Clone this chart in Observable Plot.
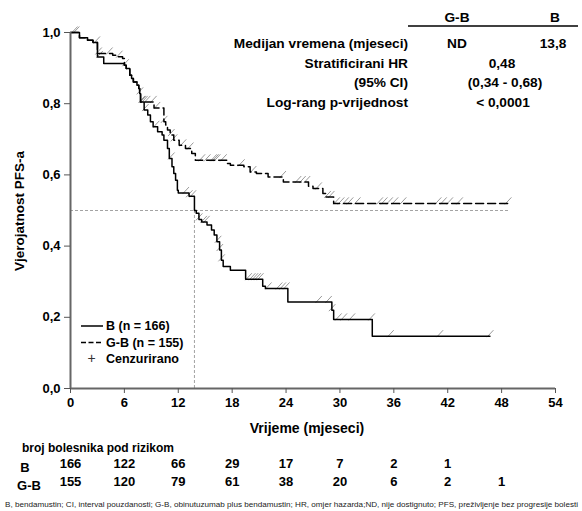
<!DOCTYPE html>
<html><head><meta charset="utf-8">
<script src="https://cdn.jsdelivr.net/npm/d3@7"></script>
<script src="https://cdn.jsdelivr.net/npm/@observablehq/plot@0.6"></script>
<style>
body{margin:0;background:#fff;font-family:"Liberation Sans",Arial,sans-serif}
#chart svg{display:block}
</style>
</head><body><div id="chart"></div>
<script>
// ---- data ----
const timeB = [0,1.0,1.9,2.5,3.0,3.7,6.0,6.2,6.6,6.8,7.0,7.4,7.6,7.7,7.8,8.2,8.6,8.9,9.2,9.7,10.2,10.4,10.8,11.0,11.3,11.5,11.7,11.9,12.0,13.2,13.8,14.0,14.3,14.6,15.2,15.7,16.0,16.3,16.6,16.8,17.0,17.8,19.5,21.4,21.7,24.2,29.1,29.3,33.6,46.7];
const survB = [1.0,0.985,0.978,0.972,0.931,0.913,0.908,0.899,0.880,0.871,0.861,0.852,0.843,0.829,0.805,0.782,0.768,0.749,0.735,0.721,0.712,0.697,0.674,0.646,0.623,0.604,0.585,0.557,0.549,0.540,0.500,0.492,0.475,0.468,0.459,0.445,0.431,0.412,0.389,0.360,0.343,0.332,0.307,0.287,0.281,0.243,0.220,0.194,0.147,0.147];
const timeGB = [0,1.0,1.9,2.5,3.0,4.7,5.2,5.8,6.0,6.2,6.6,6.8,7.0,7.4,7.6,7.7,7.8,9.3,10.4,10.6,10.8,11.1,11.5,12.1,12.8,13.5,13.9,17.4,17.8,19.3,20.0,20.7,22.0,23.7,26.5,27.0,28.1,28.4,29.3,48.9];
const survGB = [1.0,0.985,0.978,0.972,0.941,0.936,0.932,0.927,0.908,0.899,0.880,0.871,0.861,0.852,0.843,0.829,0.805,0.788,0.749,0.740,0.726,0.712,0.697,0.683,0.674,0.660,0.641,0.632,0.627,0.623,0.608,0.604,0.594,0.580,0.568,0.562,0.548,0.538,0.520,0.520];
const censorB = [0.4,2.9,3.2,7.7,8.0,8.3,9.5,11.2,12.8,13.2,13.6,14.3,14.8,15.1,16.4,16.6,16.8,19.8,20.2,20.5,20.8,21.1,22.0,23.2,23.6,24.0,27.6,28.7,29.1,29.8,30.4,31.3,33.5,35.6,41.1,46.7];
const censorGB = [0.6,3.1,4.3,5.4,6.1,7.9,8.2,8.5,9.2,9.6,10.4,11.2,11.5,12.5,13.3,14.6,15.2,15.9,16.1,16.3,17.0,19.0,20.3,23.6,25.3,25.8,26.3,27.6,28.6,29.0,29.6,30.1,30.6,31.1,31.9,34.4,34.9,35.5,36.1,37.0,40.9,41.5,42.2,43.3,48.7];
const medianB = 13.8;
const followUpEnd = 48.9;
const xTicks = [0,6,12,18,24,30,36,42,48,54];
const yTicks = [0,0.2,0.4,0.6,0.8,1.0];
const riskTimes = [0,6,12,18,24,30,36,42,48];
const riskB = [166,122,66,29,17,7,2,1];
const riskGB = [155,120,79,61,38,20,6,2,1];
const groups = ["G-B","B"];
const statLabels = ["Medijan vremena (mjeseci)","Stratificirani HR","(95% CI)","Log-rang p-vrijednost"];
const medianValues = ["ND","13,8"];
const hrValue = "0,48";
const ciValue = "(0,34 - 0,68)";
const pValue = "< 0,0001";
const legendLabels = ["B (n = 166)","G-B (n = 155)","Cenzurirano"];
const yLabel = "Vjerojatnost PFS-a";
const xLabel = "Vrijeme (mjeseci)";
const riskTitle = "broj bolesnika pod rizikom";
const footnote = "B, bendamustin; CI, interval pouzdanosti; G-B, obinutuzumab plus bendamustin; HR, omjer hazarda;ND, nije dostignuto; PFS, preživljenje bez progresije bolesti";

// ---- derived tables ----
const curveB = timeB.map((t,i)=>({t, s: survB[i]}));
const curveGB = timeGB.map((t,i)=>({t, s: survGB[i]}));
function stepAt(times, surv, t){ let v = surv[0]; for (let i=0;i<times.length;i++){ if (times[i] <= t) v = surv[i]; } return v; }
const censB = censorB.map(t=>({t, s: stepAt(timeB, survB, t)}));
const censGB = censorGB.map(t=>({t, s: stepAt(timeGB, survGB, t)}));
const riskRowB = riskB.map((n,i)=>({t: riskTimes[i], n}));
const riskRowGB = riskGB.map((n,i)=>({t: riskTimes[i], n}));

const slash = { draw(ctx){ ctx.moveTo(-3, 1); ctx.lineTo(3.5, -6); } };
const fmt = d => d3.format(".1f")(d).replace(".", ",");
const FONT = "Liberation Sans, Arial, sans-serif";

function txt(sel, x, y, s, anchor){
  return sel.append("text").attr("x", x).attr("y", y).attr("dy","0.35em").attr("text-anchor", anchor || "start").text(s);
}

function annotations(index, scales, values, dims){
  const g = d3.create("svg:g").attr("font-family", FONT).attr("fill", "black").attr("text-anchor","start");
  // stats table
  const st = g.append("g").attr("font-weight","bold").attr("font-size", 13.7);
  txt(st, 457, 17, groups[0], "middle");
  txt(st, 555, 17, groups[1], "middle");
  st.append("line").attr("x1", 408).attr("x2", 578).attr("y1", 26).attr("y2", 26).attr("stroke","black").attr("stroke-width",1.3);
  const rowsY = [43, 63.5, 82, 102];
  statLabels.forEach((l,i)=> txt(st, 408, rowsY[i], l, "end"));
  txt(st, 457, rowsY[0], medianValues[0], "middle");
  txt(st, 553, rowsY[0], medianValues[1], "middle");
  txt(st, 502, rowsY[1], hrValue, "middle");
  txt(st, 505, rowsY[2], ciValue, "middle");
  txt(st, 503, rowsY[3], pValue, "middle");
  // legend
  const lg = g.append("g").attr("font-weight","bold").attr("font-size", 12.5);
  lg.append("line").attr("x1",81).attr("x2",103).attr("y1",326).attr("y2",326).attr("stroke","black").attr("stroke-width",1.5);
  lg.append("line").attr("x1",81).attr("x2",103).attr("y1",342.5).attr("y2",342.5).attr("stroke","black").attr("stroke-width",1.5).attr("stroke-dasharray","5,2.5");
  txt(lg, 91.5, 358.5, "+", "middle").attr("font-weight","normal").attr("font-size",14).attr("fill","#333");
  [326,342.5,359].forEach((y,i)=> txt(lg, 106, y, legendLabels[i], "start"));
  // axis labels
  g.append("text").attr("transform","translate(19,211) rotate(-90)").attr("text-anchor","middle").attr("dy","0.35em").attr("font-weight","bold").attr("font-size",13.5).text(yLabel);
  txt(g, 307, 428, xLabel, "middle").attr("font-weight","bold").attr("font-size",14);
  // risk table labels
  txt(g, 22, 448, riskTitle, "start").attr("font-weight","bold").attr("font-size",12);
  txt(g, 25, 467, groups[1], "middle").attr("font-weight","bold").attr("font-size",13);
  txt(g, 29, 485, groups[0], "middle").attr("font-weight","bold").attr("font-size",13);
  // footnote
  txt(g, 5, 504, footnote, "start").attr("font-size",7.6).attr("fill","#222").attr("textLength",573).attr("lengthAdjust","spacingAndGlyphs");
  return g.node();
}

const chart = Plot.plot({
  width: 582, height: 511,
  marginLeft: 70, marginRight: 27, marginTop: 32, marginBottom: 123,
  style: {fontFamily: FONT, background: "white", overflow: "visible"},
  x: {domain: [0,54]},
  y: {domain: [0,1]},
  marks: [
    Plot.ruleY([0.5], {x1: 0, x2: followUpEnd, stroke: "#999", strokeWidth: 0.9, strokeDasharray: "3,2"}),
    Plot.ruleX([medianB], {y1: 0, y2: 0.5, stroke: "#999", strokeWidth: 0.9, strokeDasharray: "3,2"}),
    Plot.dot(censB, {x: "t", y: "s", symbol: slash, r: 4, stroke: "#9a9a9a", strokeWidth: 1, fill: "none"}),
    Plot.dot(censGB, {x: "t", y: "s", symbol: slash, r: 4, stroke: "#9a9a9a", strokeWidth: 1, fill: "none"}),
    Plot.line(curveB, {x: "t", y: "s", curve: "step-after", stroke: "black", strokeWidth: 1.5}),
    Plot.line(curveGB, {x: "t", y: "s", curve: "step-after", stroke: "black", strokeWidth: 1.5, strokeDasharray: "8,4"}),
    Plot.ruleX([0], {y1: 0, y2: 1, stroke: "#666", strokeWidth: 2}),
    Plot.ruleY([0], {x1: 0, x2: 54, stroke: "#666", strokeWidth: 2}),
    Plot.axisX({ticks: xTicks, tickSize: 5, tickPadding: 4, stroke: "#555", fill: "black", fontSize: 13, fontWeight: "bold", label: null}),
    Plot.axisY({ticks: yTicks, tickFormat: fmt, tickSize: 6, tickPadding: 4, stroke: "#555", fill: "black", fontSize: 13, fontWeight: "bold", label: null}),
    Plot.text(riskRowB, {x: "t", text: d => String(d.n), frameAnchor: "bottom", dy: 79, fontSize: 13, fontWeight: "bold", fill: "black"}),
    Plot.text(riskRowGB, {x: "t", text: d => String(d.n), frameAnchor: "bottom", dy: 97, fontSize: 13, fontWeight: "bold", fill: "black"}),
    annotations
  ]
});
document.getElementById("chart").appendChild(chart);
</script>
</body></html>
